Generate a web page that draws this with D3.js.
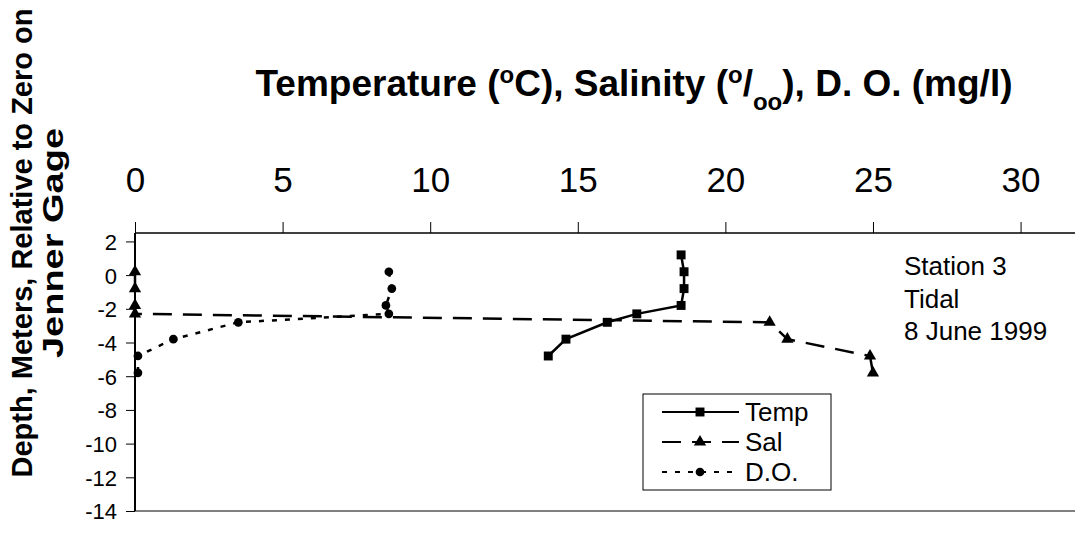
<!DOCTYPE html>
<html>
<head>
<meta charset="utf-8">
<script src="https://cdn.jsdelivr.net/npm/d3@7"></script>
<style>
  body { margin: 0; background: #fff; }
  text { font-family: Arial, "Liberation Sans", sans-serif; fill: #000; }
</style>
</head>
<body>
<div id="chart-area"></div>
<script>
// Data (depth in m, relative to Jenner gage)
let tempDepth = [1.2, 0.2, -0.8, -1.8, -2.3, -2.8, -3.8, -4.8];
let tempValue = [18.5, 18.6, 18.6, 18.5, 17.0, 16.0, 14.6, 14.0];

let salDepth = [0.2, -0.8, -1.8, -2.3, -2.8, -3.8, -4.8, -5.8];
let salValue = [0, 0, 0, 0, 21.5, 22.1, 24.9, 25.0];

let doDepth = [0.2, -0.8, -1.8, -2.3, -2.8, -3.8, -4.8, -5.8];
let doValue = [8.6, 8.7, 8.5, 8.6, 3.5, 1.3, 0.1, 0.1];

let xTicks = [0, 5, 10, 15, 20, 25, 30];
let yTicks = [2, 0, -2, -4, -6, -8, -10, -12, -14];
let seriesNames = ["Temp", "Sal", "D.O."];
let noteLines = ["Station 3", "Tidal", "8 June 1999"];

// SVG drawing area
let margin = {top: 233, right: 0, bottom: 24, left: 135};
let width = 1075 - margin.left - margin.right,
    height = 535 - margin.top - margin.bottom;

let svg = d3.select("#chart-area").append("svg")
    .attr("width", 1075)
    .attr("height", 535);

let g = svg.append("g")
    .attr("transform", "translate(" + margin.left + "," + margin.top + ")");

// Scales
let x = d3.scaleLinear().domain([0, 32]).range([0, 944.6]);
let y = d3.scaleLinear().domain([-14, 2.5]).range([height, 0]);

// bottom frame line
g.append("line")
    .attr("x1", 0).attr("x2", width)
    .attr("y1", height).attr("y2", height)
    .attr("stroke", "#808080").attr("stroke-width", 2);

// Axes
let xAxis = d3.axisTop(x).tickValues(xTicks).tickSize(11).tickPadding(30);
let xAxisGroup = g.append("g").attr("class", "x-axis").call(xAxis);
xAxisGroup.select(".domain").attr("stroke", "#000").attr("stroke-width", 1.5)
    .attr("d", "M0,0H" + width);
xAxisGroup.selectAll(".tick line").attr("stroke", "#000").attr("stroke-width", 1);
xAxisGroup.selectAll("text")
    .style("font-size", "35px").attr("dy", 0);

let yAxis = d3.axisLeft(y).tickValues(yTicks).tickSize(9).tickPadding(9)
    .tickFormat(d3.format("d"));
let yAxisGroup = g.append("g").attr("class", "y-axis").call(yAxis);
yAxisGroup.select(".domain").attr("stroke", "#000").attr("stroke-width", 2)
    .attr("d", "M0,0V" + height);
yAxisGroup.selectAll(".tick line").attr("stroke", "#000").attr("stroke-width", 1);
yAxisGroup.selectAll("text").style("font-size", "22px").attr("dy", "0.36em");
yAxisGroup.selectAll("text").text(d => d < 0 ? "-" + Math.abs(d) : d);

// Series
let series = [
  {name: "Temp", pts: tempValue.map((v, i) => [v, tempDepth[i]]), dash: null, marker: "square"},
  {name: "Sal", pts: salValue.map((v, i) => [v, salDepth[i]]), dash: "19,11", marker: "triangle"},
  {name: "D.O.", pts: doValue.map((v, i) => [v, doDepth[i]]), dash: "5,8", marker: "circle"}
];

let line = d3.line().x(d => x(d[0])).y(d => y(d[1]));
let sym = {
  square: d3.symbol().type(d3.symbolSquare).size(80),
  triangle: d3.symbol().type(d3.symbolTriangle).size(65),
  circle: d3.symbol().type(d3.symbolCircle).size(60)
};

series.forEach(s => {
  g.append("path")
      .attr("d", line(s.pts))
      .attr("fill", "none")
      .attr("stroke", "#000")
      .attr("stroke-width", 2.5)
      .attr("stroke-dasharray", s.dash);
  g.selectAll(".m-" + s.marker).data(s.pts).enter()
      .append("path")
      .attr("class", "m-" + s.marker)
      .attr("transform", d => "translate(" + x(d[0]) + "," + y(d[1]) + ")")
      .attr("d", sym[s.marker]())
      .attr("fill", "#000");
});

// Legend
let legend = svg.append("g").attr("transform", "translate(643,394)");
legend.append("rect")
    .attr("width", 188).attr("height", 96)
    .attr("fill", "#fff").attr("stroke", "#000").attr("stroke-width", 1);
let items = legend.selectAll(".item").data(series).enter()
    .append("g").attr("class", "item")
    .attr("transform", (d, i) => "translate(0," + (18 + i * 30) + ")");
items.append("line")
    .attr("x1", 19).attr("x2", 96)
    .attr("stroke", "#000").attr("stroke-width", 2)
    .attr("stroke-dasharray", d => d.dash);
items.append("path")
    .attr("transform", "translate(57,0)")
    .attr("d", d => sym[d.marker]())
    .attr("fill", "#000");
items.append("text")
    .attr("x", 102).attr("dy", "0.36em")
    .style("font-size", "26px")
    .text((d, i) => seriesNames[i]);

// Station note
svg.append("g").selectAll("text").data(noteLines).enter()
    .append("text")
    .attr("x", 904)
    .attr("y", (d, i) => 275 + i * 32.5)
    .style("font-size", "26px")
    .text(d => d);

// Top title
let title = svg.append("text")
    .attr("x", 634).attr("y", 96)
    .attr("text-anchor", "middle")
    .style("font-size", "37px").style("font-weight", "bold");
title.append("tspan").text("Temperature (");
title.append("tspan").attr("baseline-shift", "super").style("font-size", "24px").text("o");
title.append("tspan").text("C), Salinity (");
title.append("tspan").attr("baseline-shift", "super").style("font-size", "24px").text("o");
title.append("tspan").text("/");
title.append("tspan").attr("baseline-shift", "sub").style("font-size", "24px").text("oo");
title.append("tspan").text("), D. O. (mg/l)");

// Y title, two lines
svg.append("text")
    .attr("transform", "translate(0,243) rotate(-90)")
    .attr("text-anchor", "middle")
    .attr("y", 32)
    .style("font-size", "29px").style("font-weight", "bold")
    .text("Depth, Meters, Relative to Zero on");
svg.append("text")
    .attr("transform", "translate(0,243) rotate(-90)")
    .attr("x", -115).attr("y", 63)
    .attr("textLength", 230).attr("lengthAdjust", "spacingAndGlyphs")
    .style("font-size", "29px").style("font-weight", "bold")
    .text("Jenner Gage");
</script>
</body>
</html>
